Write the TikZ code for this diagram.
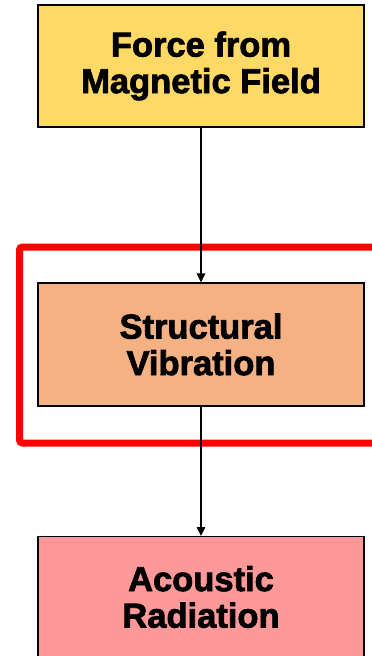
\documentclass[tikz,border=0pt]{standalone}
\usepackage{fontspec}
\setmainfont{Liberation Sans}[BoldFeatures={FakeBold=2.2}]
\usetikzlibrary{arrows.meta}
\definecolor{boxyellow}{HTML}{FFD966}
\definecolor{boxorange}{HTML}{F4B183}
\definecolor{boxpink}{HTML}{FF9999}
\definecolor{redframe}{HTML}{FF0000}
\tikzset{
  boxfont/.style={font=\fontsize{34.5}{36.5}\selectfont\bfseries},
  flowbox/.style={draw=black, line width=1.3pt, minimum width=326pt, minimum height=122pt,
    inner sep=0pt, align=center, boxfont},
  flowarrow/.style={draw=black, line width=1.5pt, -{Triangle[length=9pt,width=8.5pt]}},
  highlight/.style={draw=redframe, line width=7pt, rounded corners=3pt}
}
\begin{document}
\begin{tikzpicture}[x=1pt,y=-1pt]
\useasboundingbox (0,0) rectangle (372,656);
\clip (0,0) rectangle (372,656);
\fill[white] (0,0) rectangle (372,656);
\draw[highlight] (400,247) -- (19.5,247) -- (19.5,443) -- (400,443);
\node[flowbox, fill=boxyellow] (force) at (201,66) {Force from\\Magnetic Field};
\node[flowbox, fill=boxorange, minimum height=123pt] (vib) at (201,344.5) {Structural\\Vibration};
\node[flowbox, fill=boxpink, anchor=north] (acou) at (201,536) {};
\node[boxfont, align=center] (acoutext) at (201,597) {Acoustic\\Radiation};
\draw[flowarrow] (force.south) -- (vib.north);
\draw[flowarrow] (vib.south) -- (acou.north);
\end{tikzpicture}
\end{document}
